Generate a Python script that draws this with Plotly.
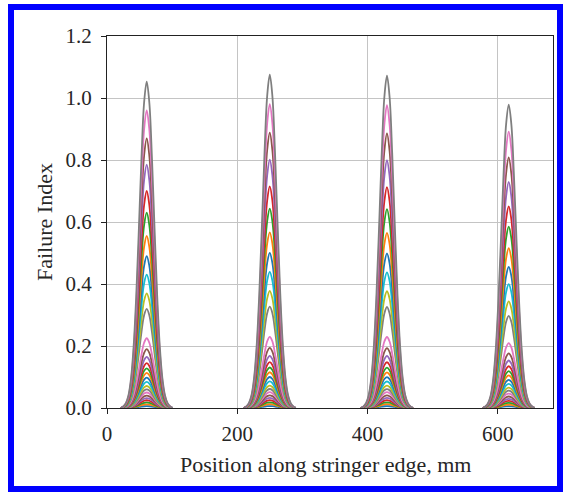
import plotly.graph_objects as go

# Peak centres along the stringer edge (mm) and relative peak heights
peak_centres = [61, 250, 430, 617]
peak_scale = [1.000, 1.021, 1.018, 0.929]

# Bell-shaped profile (offset mm, normalised value)
profile_offset = [-40, -36, -32, -28, -24, -20, -16, -12, -8, -4, 0,
                  4, 8, 12, 16, 20, 24, 28, 32, 36, 40]
profile_value = [0.0, 0.005, 0.015, 0.039, 0.092, 0.191, 0.348, 0.551, 0.768, 0.936, 1.0,
                 0.936, 0.768, 0.551, 0.348, 0.191, 0.092, 0.039, 0.015, 0.005, 0.0]

# Failure index at first peak for each load step (ascending)
load_peaks = [0.006, 0.012, 0.018, 0.025, 0.032, 0.040, 0.050, 0.060, 0.071, 0.084,
              0.098, 0.113, 0.128, 0.145, 0.165, 0.190, 0.225, 0.320, 0.370, 0.430,
              0.490, 0.555, 0.630, 0.700, 0.785, 0.870, 0.960, 1.053]

colors = ["#1f77b4", "#ff7f0e", "#2ca02c", "#d62728", "#9467bd",
          "#8c564b", "#e377c2", "#7f7f7f", "#bcbd22", "#17becf"]

x_ticks = [0, 200, 400, 600]
y_ticks = [0.0, 0.2, 0.4, 0.6, 0.8, 1.0, 1.2]

fig = go.Figure()
for i, amp in enumerate(load_peaks):
    xs, ys = [], []
    for c, s in zip(peak_centres, peak_scale):
        for o, v in zip(profile_offset, profile_value):
            xs.append(c + o)
            ys.append(amp * s * v)
        xs.append(None)
        ys.append(None)
    fig.add_trace(go.Scatter(x=xs, y=ys, mode="lines",
                             line=dict(color=colors[i % 10], width=1.8, shape="spline"),
                             showlegend=False, hoverinfo="skip"))

W, H = 564, 495
L, R, T, B = 107, 553, 36, 408
pw, ph = R - L, B - T


def px(x):
    return (x - L) / pw


def py(y):
    return (B - y) / ph


font = "Liberation Serif, Times New Roman, serif"
fig.update_layout(
    width=W, height=H,
    margin=dict(l=L, r=W - R, t=T, b=H - B),
    paper_bgcolor="white", plot_bgcolor="white",
    font=dict(family=font, size=21, color="#262626"),
    xaxis=dict(range=[0, 685], tickvals=x_ticks, ticks="outside", ticklen=5,
               tickcolor="#222", showline=True, linecolor="#222", linewidth=1.3,
               mirror=True, showgrid=True, gridcolor="#c4c4c4", gridwidth=1.2,
               zeroline=False, tickfont=dict(size=21), ticklabelstandoff=2),
    yaxis=dict(range=[0, 1.2], tickvals=y_ticks, tickformat=".1f", ticks="outside",
               ticklen=5, tickcolor="#222", showline=True, linecolor="#222",
               linewidth=1.3, mirror=True, showgrid=True, gridcolor="#c4c4c4",
               gridwidth=1.2, zeroline=False, tickfont=dict(size=21), ticklabelstandoff=5),
    annotations=[
        dict(text="Position along stringer edge, mm", xref="paper", yref="paper",
             x=px(325), y=py(464), showarrow=False, font=dict(size=22),
             xanchor="center", yanchor="middle"),
        dict(text="Failure Index", xref="paper", yref="paper",
             x=px(44), y=py(222), showarrow=False, textangle=-90,
             font=dict(size=22), xanchor="center", yanchor="middle"),
    ],
    shapes=[dict(type="rect", xref="paper", yref="paper",
                 x0=px(11), x1=px(560), y0=py(489), y1=py(7),
                 line=dict(color="#0000ff", width=6), layer="above")],
)

fig.write_html("out.html", config={"displayModeBar": False},
               post_script="document.body.style.margin='0';document.body.style.overflow='hidden';")
